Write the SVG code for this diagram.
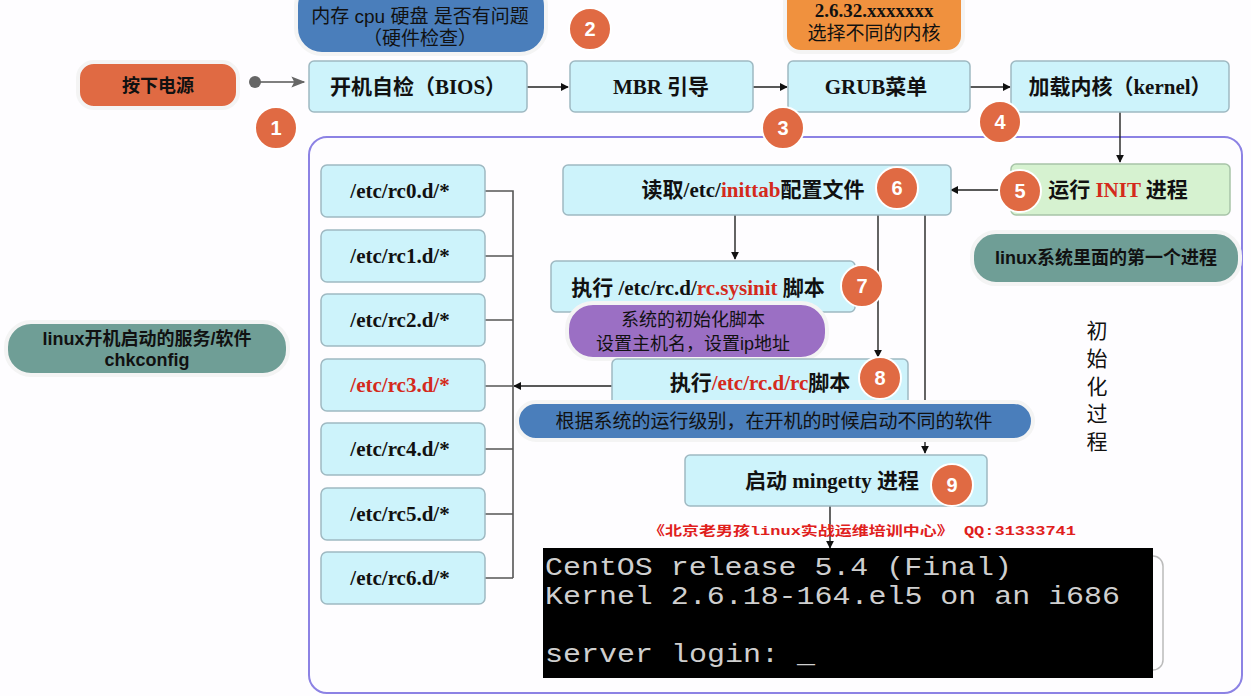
<svg xmlns="http://www.w3.org/2000/svg" width="1251" height="696" viewBox="0 0 1251 696">
<defs>
<style>
.box{fill:#cdf3fb;stroke:#9fb9c2;stroke-width:1.5}
.t{font-family:"Liberation Serif","Noto Sans CJK SC",serif;font-weight:bold;font-size:21px;fill:#111;text-anchor:middle}
.c{font-family:"Liberation Sans","Noto Sans CJK SC",sans-serif;font-weight:bold;font-size:18px;fill:#111;text-anchor:middle}
.red{fill:#d42a1c}
.num circle{fill:#e06a43;stroke:#fff;stroke-width:2}
.num text{font-family:"Liberation Sans",sans-serif;font-weight:bold;font-size:20px;fill:#fff;text-anchor:middle}
.ln{stroke:#222;stroke-width:1.4;fill:none}
.gl{stroke:#555;stroke-width:1.6;fill:none}
.co{stroke:#f4f4f4;stroke-width:4}
.term{font-family:"Liberation Mono",monospace;font-size:25px;fill:#cfcfcf}
</style>
<marker id="ah" viewBox="0 0 10 10" refX="9" refY="5" markerWidth="8" markerHeight="8" orient="auto" markerUnits="userSpaceOnUse"><path d="M0,0L10,5L0,10z" fill="#111"/></marker>
<marker id="gah" viewBox="0 0 10 10" refX="9" refY="5" markerWidth="18" markerHeight="14" orient="auto" markerUnits="userSpaceOnUse"><path d="M0,1L10,5L0,9L2,5z" fill="#666"/></marker>
</defs>
<rect width="1251" height="696" fill="#fefdff"/>
<rect x="309" y="137" width="933" height="556" rx="18" fill="none" stroke="#8c82e4" stroke-width="2"/>

<g id="connectors">
<line class="gl" x1="255" y1="82" x2="304" y2="82" marker-end="url(#gah)" stroke-width="3"/>
<circle cx="255" cy="82" r="6" fill="#666"/>
<line class="ln" x1="527" y1="87" x2="568" y2="87" marker-end="url(#ah)"/>
<line class="ln" x1="753" y1="87" x2="787" y2="87" marker-end="url(#ah)"/>
<line class="ln" x1="970" y1="87" x2="1010" y2="87" marker-end="url(#ah)"/>
<line class="ln" x1="1120" y1="112" x2="1120" y2="162" marker-end="url(#ah)"/>
<line class="ln" x1="1011" y1="190" x2="951" y2="190" marker-end="url(#ah)"/>
<line class="ln" x1="735" y1="215" x2="735" y2="259" marker-end="url(#ah)"/>
<line class="ln" x1="878" y1="215" x2="878" y2="357" marker-end="url(#ah)"/>
<line class="ln" x1="925" y1="215" x2="925" y2="453" marker-end="url(#ah)"/>
<line class="ln" x1="830" y1="506" x2="830" y2="548" marker-end="url(#ah)"/>
<line class="ln" x1="612" y1="386" x2="514" y2="386" marker-end="url(#ah)"/>
<path class="gl" d="M485,191H513V578M485,256H513M485,320H513M485,449H513M485,514H513M485,578H513M485,386H513"/>
</g>

<g id="callout-hw">
<rect class="co" x="296" y="-20" width="250" height="74" rx="26" fill="#4a7ebb"/>
<text class="c" x="420" y="23" style="font-weight:normal;font-size:19px">内存 cpu 硬盘 是否有问题</text>
<text class="c" x="420" y="45" style="font-weight:normal;font-size:19px">（硬件检查）</text>
</g>
<g id="callout-kernel">
<rect class="co" x="785" y="-20" width="178" height="72" rx="16" fill="#f0913e"/>
<text class="t" x="874" y="17" style="font-size:19px">2.6.32.xxxxxxx</text>
<text class="c" x="874" y="40" style="font-weight:normal;font-size:19px">选择不同的内核</text>
</g>

<g id="power">
<rect class="co" x="78" y="62" width="160" height="46" rx="16" fill="#e06a43"/>
<text class="c" x="158" y="92">按下电源</text>
</g>
<g id="bios">
<rect class="box" x="309" y="61" width="218" height="51" rx="5"/>
<text class="t" x="418" y="94">开机自检（BIOS）</text>
</g>
<g id="mbr">
<rect class="box" x="570" y="61" width="183" height="51" rx="5"/>
<text class="t" x="661" y="94">MBR 引导</text>
</g>
<g id="grub">
<rect class="box" x="788" y="61" width="182" height="51" rx="5"/>
<text class="t" x="876" y="94">GRUB菜单</text>
</g>
<g id="kernel">
<rect class="box" x="1011" y="61" width="218" height="51" rx="5"/>
<text class="t" x="1120" y="94">加载内核（kernel）</text>
</g>
<g id="init">
<rect x="1011" y="164" width="219" height="51" rx="5" fill="#d6f2d0" stroke="#a8c4a8" stroke-width="1.5"/>
<text class="t" x="1118" y="197">运行 <tspan class="red">INIT</tspan> 进程</text>
</g>
<g id="callout-first">
<rect class="co" x="972" y="232" width="268" height="52" rx="24" fill="#6f9e96"/>
<text class="c" x="1106" y="264">linux系统里面的第一个进程</text>
</g>
<g id="inittab">
<rect class="box" x="563" y="165" width="388" height="50" rx="5"/>
<text class="t" x="753" y="197">读取/etc/<tspan class="red">inittab</tspan>配置文件</text>
</g>
<g id="sysinit">
<rect class="box" x="551" y="261" width="304" height="51" rx="5"/>
<text class="t" x="698" y="295">执行 /etc/rc.d/<tspan class="red">rc.sysinit</tspan> 脚本</text>
</g>
<g id="callout-sysinit">
<rect class="co" x="567" y="303" width="260" height="56" rx="26" fill="#9b6fc4"/>
<text class="c" x="693" y="326" style="font-weight:normal">系统的初始化脚本</text>
<text class="c" x="693" y="350" style="font-weight:normal">设置主机名，设置ip地址</text>
</g>
<g id="rc">
<rect class="box" x="612" y="359" width="296" height="50" rx="5"/>
<text class="t" x="760" y="390">执行<tspan class="red">/etc/rc.d/rc</tspan>脚本</text>
</g>
<g id="callout-runlevel">
<rect class="co" x="517" y="402" width="516" height="38" rx="19" fill="#4a7ebb"/>
<text class="c" x="774" y="428" style="font-weight:normal;font-size:19px">根据系统的运行级别，在开机的时候启动不同的软件</text>
</g>
<g id="mingetty">
<rect class="box" x="685" y="455" width="302" height="51" rx="5"/>
<text class="t" x="832" y="488">启动 mingetty 进程</text>
</g>

<g id="rc0"><rect class="box" x="321" y="165" width="164" height="52" rx="6"/><text class="t" x="400" y="198">/etc/rc0.d/*</text></g>
<g id="rc1"><rect class="box" x="321" y="230" width="164" height="52" rx="6"/><text class="t" x="400" y="263">/etc/rc1.d/*</text></g>
<g id="rc2"><rect class="box" x="321" y="294" width="164" height="52" rx="6"/><text class="t" x="400" y="327">/etc/rc2.d/*</text></g>
<g id="rc3"><rect class="box" x="321" y="359" width="164" height="52" rx="6"/><text class="t red" x="400" y="392">/etc/rc3.d/*</text></g>
<g id="rc4"><rect class="box" x="321" y="423" width="164" height="52" rx="6"/><text class="t" x="400" y="456">/etc/rc4.d/*</text></g>
<g id="rc5"><rect class="box" x="321" y="488" width="164" height="52" rx="6"/><text class="t" x="400" y="521">/etc/rc5.d/*</text></g>
<g id="rc6"><rect class="box" x="321" y="552" width="164" height="52" rx="6"/><text class="t" x="400" y="585">/etc/rc6.d/*</text></g>

<g id="callout-chkconfig">
<rect class="co" x="6" y="322" width="282" height="53" rx="25" fill="#6f9e96"/>
<text class="c" x="147" y="345">linux开机启动的服务/软件</text>
<text class="c" x="147" y="366">chkconfig</text>
</g>

<g id="label-init" font-family="Liberation Sans,Noto Sans CJK SC,sans-serif" font-size="21" fill="#111" text-anchor="middle">
<text x="1097" y="338">初</text>
<text x="1097" y="366">始</text>
<text x="1097" y="394">化</text>
<text x="1097" y="421">过</text>
<text x="1097" y="449">程</text>
</g>

<g id="nums" class="num">
<circle cx="276" cy="128" r="21"/><text x="276" y="135">1</text>
<circle cx="590" cy="29" r="21"/><text x="590" y="36">2</text>
<circle cx="783" cy="128" r="21"/><text x="783" y="135">3</text>
<circle cx="1000" cy="122" r="21"/><text x="1000" y="129">4</text>
<circle cx="1020" cy="191" r="21"/><text x="1020" y="198">5</text>
<circle cx="897" cy="188" r="21"/><text x="897" y="195">6</text>
<circle cx="862" cy="286" r="21"/><text x="862" y="293">7</text>
<circle cx="880" cy="378" r="21"/><text x="880" y="385">8</text>
<circle cx="952" cy="485" r="21"/><text x="952" y="492">9</text>
</g>

<g id="watermark">
<text x="648" y="535" font-family="Liberation Mono,Noto Sans CJK SC,monospace" font-weight="bold" font-size="13" fill="#e0201c" textLength="428" lengthAdjust="spacingAndGlyphs">《北京老男孩linux实战运维培训中心》  QQ:31333741</text>
</g>

<g id="terminal">
<rect x="551" y="556" width="612" height="114" rx="10" fill="none" stroke="#bbb" stroke-width="1.5"/>
<rect x="543" y="548" width="610" height="130" fill="#000"/>
<text class="term" x="545" y="575" textLength="467" lengthAdjust="spacingAndGlyphs">CentOS release 5.4 (Final)</text>
<text class="term" x="545" y="604" textLength="575" lengthAdjust="spacingAndGlyphs">Kernel 2.6.18-164.el5 on an i686</text>
<text class="term" x="545" y="662" textLength="270" lengthAdjust="spacingAndGlyphs">server login: _</text>
</g>
</svg>
